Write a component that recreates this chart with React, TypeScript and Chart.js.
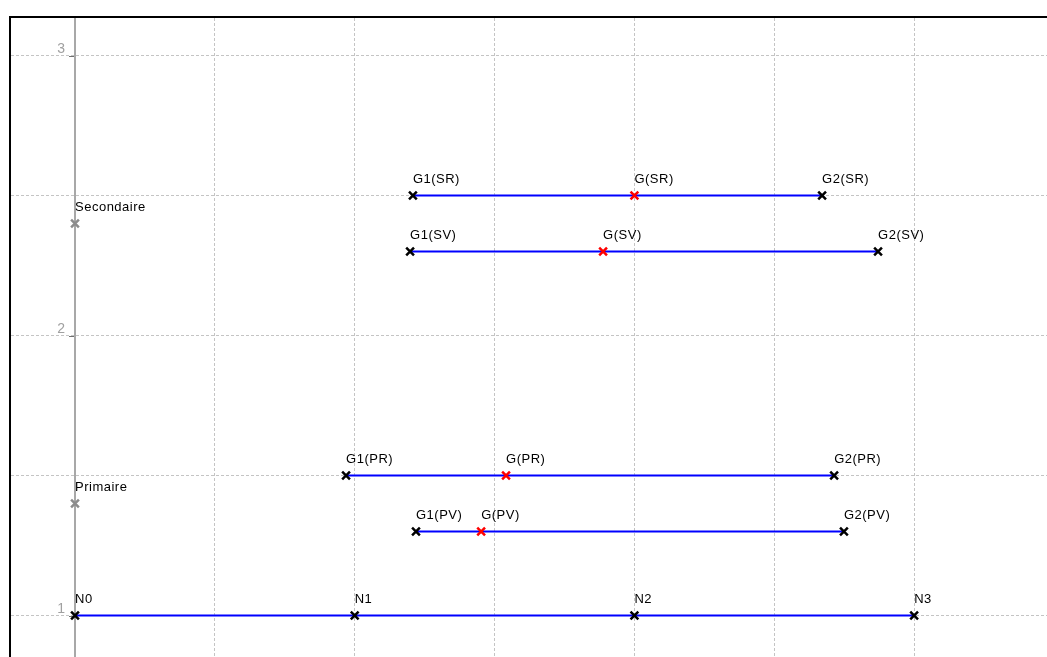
import React, { useEffect, useRef } from 'react';
import { Chart, registerables } from 'chart.js';

Chart.register(...registerables);

// ---- data ----
const nodeLabels = ['N0', 'N1', 'N2', 'N3'];
const nodeX = [0, 1, 2, 3];
const nodeY = 1;

const segmentNames = ['PV', 'PR', 'SV', 'SR'];
const segmentY = [1.3, 1.5, 2.3, 2.5];
const g1X = [1.219, 0.969, 1.198, 1.208];
const gX = [1.452, 1.541, 1.888, 2.0];
const g2X = [2.749, 2.714, 2.871, 2.671];

const groupLabels = ['Primaire', 'Secondaire'];
const groupX = [0, 0];
const groupY = [1.4, 2.4];

const yTickLabels = [1, 2, 3];

const xMin = -0.2288;
const xMax = 3.475;
const yMin = 0.852;
const yMax = 3.134;

const FONT = '"Liberation Sans", Arial, sans-serif';

const isHalf = (v: number) => Math.abs(v * 2 - Math.round(v * 2)) < 1e-6;

const overlayPlugin = {
  id: 'overlay',
  beforeDatasetsDraw(chart: any) {
    const { ctx, chartArea, scales } = chart;
    const x0 = scales.x.getPixelForValue(0);
    ctx.save();
    // vertical axis line
    ctx.fillStyle = '#a8a8a8';
    ctx.fillRect(Math.round(x0) - 1, chartArea.top, 2, chartArea.bottom - chartArea.top);
    // tick marks and labels
    ctx.font = `14px ${FONT}`;
    ctx.textAlign = 'right';
    ctx.textBaseline = 'alphabetic';
    yTickLabels.forEach((v) => {
      const py = scales.y.getPixelForValue(v);
      ctx.fillStyle = '#707070';
      ctx.fillRect(Math.round(x0) - 6, Math.round(py), 5, 1);
      ctx.fillStyle = '#a0a0a0';
      ctx.fillText(String(v), x0 - 10, py - 2.5);
    });
    ctx.restore();
  },
  afterDatasetsDraw(chart: any) {
    const { ctx } = chart;
    ctx.save();
    ctx.font = `13px ${FONT}`;
    (ctx as any).letterSpacing = '0.5px';
    ctx.fillStyle = '#000000';
    ctx.textAlign = 'left';
    ctx.textBaseline = 'alphabetic';
    chart.data.datasets.forEach((ds: any, i: number) => {
      const meta = chart.getDatasetMeta(i);
      const labels: string[] = ds.pointLabels || [];
      meta.data.forEach((el: any, j: number) => {
        if (labels[j]) ctx.fillText(labels[j], el.x, el.y - 12.5);
      });
    });
    ctx.restore();
  },
  afterDraw(chart: any) {
    const { ctx, chartArea } = chart;
    ctx.save();
    ctx.fillStyle = '#000000';
    ctx.fillRect(chartArea.left - 2, chartArea.top - 2, chart.width, 2);
    ctx.fillRect(chartArea.left - 2, chartArea.top - 2, 2, chart.height);
    ctx.restore();
  },
};

export default function App() {
  const canvasRef = useRef<HTMLCanvasElement | null>(null);

  useEffect(() => {
    if (!canvasRef.current) return;

    const pointBase = {
      pointStyle: 'crossRot',
      pointRadius: 5.5,
      pointHoverRadius: 5.5,
      pointBorderWidth: 2.5,
      pointHoverBorderWidth: 2.5,
    };

    const datasets: any[] = [];
    datasets.push({
      ...pointBase,
      data: nodeX.map((x) => ({ x, y: nodeY })),
      pointLabels: nodeLabels,
      showLine: true,
      borderColor: '#0000ff',
      borderWidth: 2,
      pointBorderColor: '#000000',
      pointBackgroundColor: '#000000',
    });
    segmentNames.forEach((name, i) => {
      datasets.push({
        ...pointBase,
        data: [
          { x: g1X[i], y: segmentY[i] },
          { x: gX[i], y: segmentY[i] },
          { x: g2X[i], y: segmentY[i] },
        ],
        pointLabels: [`G1(${name})`, `G(${name})`, `G2(${name})`],
        showLine: true,
        borderColor: '#0000ff',
        borderWidth: 2,
        pointBorderColor: ['#000000', '#ff0000', '#000000'],
        pointBackgroundColor: ['#000000', '#ff0000', '#000000'],
      });
    });
    datasets.push({
      ...pointBase,
      data: groupX.map((x, i) => ({ x, y: groupY[i] })),
      pointLabels: groupLabels,
      showLine: false,
      pointBorderColor: '#8c8c8c',
      pointBackgroundColor: '#8c8c8c',
    });

    const gridColor = (axis: 'x' | 'y') => (c: any) => {
      const v = c.tick ? c.tick.value : NaN;
      if (!isHalf(v)) return 'rgba(0,0,0,0)';
      if (axis === 'x' && Math.abs(v) < 1e-6) return 'rgba(0,0,0,0)';
      return '#c4c4c4';
    };

    const chart = new Chart(canvasRef.current, {
      type: 'scatter',
      data: { datasets },
      options: {
        animation: false,
        responsive: true,
        maintainAspectRatio: false,
        layout: { autoPadding: false, padding: { left: 11, top: 18, right: 0, bottom: 0 } },
        plugins: { legend: { display: false }, tooltip: { enabled: false } },
        events: [],
        scales: {
          x: {
            type: 'linear',
            min: xMin,
            max: xMax,
            ticks: { display: false, stepSize: 0.5 },
            grid: { color: gridColor('x'), drawTicks: false, lineWidth: 1 },
            border: { display: false, dash: [3, 2] },
          },
          y: {
            type: 'linear',
            min: yMin,
            max: yMax,
            ticks: { display: false, stepSize: 0.5 },
            grid: { color: gridColor('y'), drawTicks: false, lineWidth: 1 },
            border: { display: false, dash: [3, 2] },
          },
        },
      } as any,
      plugins: [overlayPlugin],
    });

    return () => chart.destroy();
  }, []);

  return (
    <div style={{ position: 'fixed', left: 0, top: 0, width: 1047, height: 657, background: '#ffffff' }}>
      <canvas ref={canvasRef} />
    </div>
  );
}
